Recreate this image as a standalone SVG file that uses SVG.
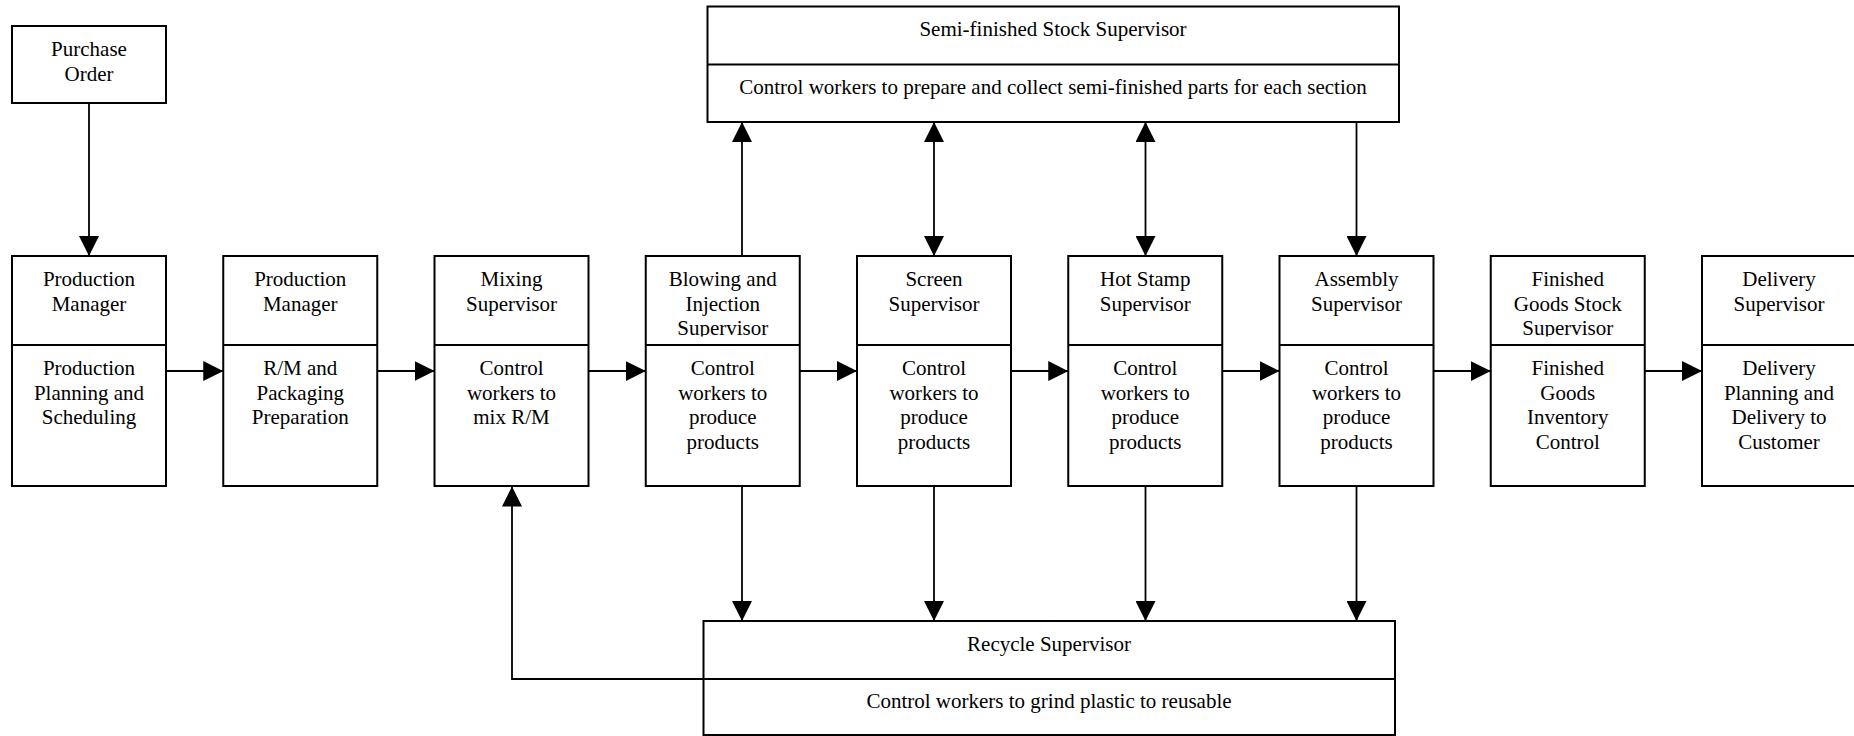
<svg xmlns="http://www.w3.org/2000/svg" width="1854" height="736" viewBox="0 0 1854 736">
  <style>
    .box { fill: #ffffff; stroke: #000000; stroke-width: 2; }
    .div { stroke: #000000; stroke-width: 2; }
    .t { font-family: "Liberation Serif", "Times New Roman", serif; font-size: 21px; fill: #000000; text-anchor: middle; }
    .ln { fill: none; stroke: #000000; stroke-width: 1.8; }
  </style>
  <defs>
    <marker id="arr" viewBox="0 0 20 20" refX="20" refY="10" markerWidth="20" markerHeight="20" markerUnits="userSpaceOnUse" orient="auto-start-reverse">
      <path d="M0,0 L20,10 L0,20 z" fill="#000000"/>
    </marker>
    <!-- header band of the process boxes: third header line is cut at the bottom -->
    <clipPath id="hdr">
      <rect x="0" y="256" width="1854" height="80.5"/>
    </clipPath>
  </defs>

  <rect x="0" y="0" width="1854" height="736" fill="#ffffff"/>

  <!-- connectors -->
  <g id="connectors">
    <!-- order to first manager -->
    <line class="ln" x1="89" y1="103" x2="89" y2="256" marker-end="url(#arr)"/>
    <!-- main flow -->
    <line class="ln" x1="166" y1="371" x2="223.25" y2="371" marker-end="url(#arr)"/>
    <line class="ln" x1="377.25" y1="371" x2="434.5" y2="371" marker-end="url(#arr)"/>
    <line class="ln" x1="588.5" y1="371" x2="645.75" y2="371" marker-end="url(#arr)"/>
    <line class="ln" x1="799.75" y1="371" x2="857" y2="371" marker-end="url(#arr)"/>
    <line class="ln" x1="1011" y1="371" x2="1068.25" y2="371" marker-end="url(#arr)"/>
    <line class="ln" x1="1222.25" y1="371" x2="1279.5" y2="371" marker-end="url(#arr)"/>
    <line class="ln" x1="1433.5" y1="371" x2="1490.75" y2="371" marker-end="url(#arr)"/>
    <line class="ln" x1="1644.75" y1="371" x2="1702" y2="371" marker-end="url(#arr)"/>
    <!-- semi-finished stock links -->
    <line class="ln" x1="742" y1="256" x2="742" y2="122" marker-end="url(#arr)"/>
    <line class="ln" x1="934" y1="122" x2="934" y2="256" marker-start="url(#arr)" marker-end="url(#arr)"/>
    <line class="ln" x1="1145.5" y1="122" x2="1145.5" y2="256" marker-start="url(#arr)" marker-end="url(#arr)"/>
    <line class="ln" x1="1356.5" y1="122" x2="1356.5" y2="256" marker-end="url(#arr)"/>
    <!-- scrap to recycle -->
    <line class="ln" x1="742" y1="486" x2="742" y2="621" marker-end="url(#arr)"/>
    <line class="ln" x1="934" y1="486" x2="934" y2="621" marker-end="url(#arr)"/>
    <line class="ln" x1="1145.5" y1="486" x2="1145.5" y2="621" marker-end="url(#arr)"/>
    <line class="ln" x1="1356.5" y1="486" x2="1356.5" y2="621" marker-end="url(#arr)"/>
    <!-- reground material back to mixing -->
    <polyline class="ln" points="703.5,679 512,679 512,486.5" marker-end="url(#arr)"/>
  </g>

  <g id="purchase-order">
    <rect class="box" x="12" y="26" width="154" height="77"/>
    <text class="t" x="89" y="56">Purchase</text>
    <text class="t" x="89" y="81">Order</text>
  </g>

  <g id="semi-finished-stock">
    <rect class="box" x="707.5" y="6.5" width="691.5" height="115.5"/>
    <line class="div" x1="707.5" y1="64.5" x2="1399" y2="64.5"/>
    <text class="t" x="1053" y="36">Semi-finished Stock Supervisor</text>
    <text class="t" x="1053" y="94">Control workers to prepare and collect semi-finished parts for each section</text>
  </g>

  <g id="production-planning">
    <rect class="box" x="12" y="256" width="154" height="230"/>
    <line class="div" x1="12" y1="345" x2="166" y2="345"/>
    <g clip-path="url(#hdr)">
      <text class="t" x="89" y="286">Production</text>
      <text class="t" x="89" y="310.5">Manager</text>
    </g>
    <text class="t" x="89" y="375">Production</text>
    <text class="t" x="89" y="399.5">Planning and</text>
    <text class="t" x="89" y="424">Scheduling</text>
  </g>

  <g id="material-preparation">
    <rect class="box" x="223.25" y="256" width="154" height="230"/>
    <line class="div" x1="223.25" y1="345" x2="377.25" y2="345"/>
    <g clip-path="url(#hdr)">
      <text class="t" x="300.25" y="286">Production</text>
      <text class="t" x="300.25" y="310.5">Manager</text>
    </g>
    <text class="t" x="300.25" y="375">R/M and</text>
    <text class="t" x="300.25" y="399.5">Packaging</text>
    <text class="t" x="300.25" y="424">Preparation</text>
  </g>

  <g id="mixing">
    <rect class="box" x="434.5" y="256" width="154" height="230"/>
    <line class="div" x1="434.5" y1="345" x2="588.5" y2="345"/>
    <g clip-path="url(#hdr)">
      <text class="t" x="511.5" y="286">Mixing</text>
      <text class="t" x="511.5" y="310.5">Supervisor</text>
    </g>
    <text class="t" x="511.5" y="375">Control</text>
    <text class="t" x="511.5" y="399.5">workers to</text>
    <text class="t" x="511.5" y="424">mix R/M</text>
  </g>

  <g id="blowing-injection">
    <rect class="box" x="645.75" y="256" width="154" height="230"/>
    <line class="div" x1="645.75" y1="345" x2="799.75" y2="345"/>
    <g clip-path="url(#hdr)">
      <text class="t" x="722.75" y="286">Blowing and</text>
      <text class="t" x="722.75" y="310.5">Injection</text>
      <text class="t" x="722.75" y="335">Supervisor</text>
    </g>
    <text class="t" x="722.75" y="375">Control</text>
    <text class="t" x="722.75" y="399.5">workers to</text>
    <text class="t" x="722.75" y="424">produce</text>
    <text class="t" x="722.75" y="448.5">products</text>
  </g>

  <g id="screen">
    <rect class="box" x="857" y="256" width="154" height="230"/>
    <line class="div" x1="857" y1="345" x2="1011" y2="345"/>
    <g clip-path="url(#hdr)">
      <text class="t" x="934" y="286">Screen</text>
      <text class="t" x="934" y="310.5">Supervisor</text>
    </g>
    <text class="t" x="934" y="375">Control</text>
    <text class="t" x="934" y="399.5">workers to</text>
    <text class="t" x="934" y="424">produce</text>
    <text class="t" x="934" y="448.5">products</text>
  </g>

  <g id="hot-stamp">
    <rect class="box" x="1068.25" y="256" width="154" height="230"/>
    <line class="div" x1="1068.25" y1="345" x2="1222.25" y2="345"/>
    <g clip-path="url(#hdr)">
      <text class="t" x="1145.25" y="286">Hot Stamp</text>
      <text class="t" x="1145.25" y="310.5">Supervisor</text>
    </g>
    <text class="t" x="1145.25" y="375">Control</text>
    <text class="t" x="1145.25" y="399.5">workers to</text>
    <text class="t" x="1145.25" y="424">produce</text>
    <text class="t" x="1145.25" y="448.5">products</text>
  </g>

  <g id="assembly">
    <rect class="box" x="1279.5" y="256" width="154" height="230"/>
    <line class="div" x1="1279.5" y1="345" x2="1433.5" y2="345"/>
    <g clip-path="url(#hdr)">
      <text class="t" x="1356.5" y="286">Assembly</text>
      <text class="t" x="1356.5" y="310.5">Supervisor</text>
    </g>
    <text class="t" x="1356.5" y="375">Control</text>
    <text class="t" x="1356.5" y="399.5">workers to</text>
    <text class="t" x="1356.5" y="424">produce</text>
    <text class="t" x="1356.5" y="448.5">products</text>
  </g>

  <g id="finished-goods">
    <rect class="box" x="1490.75" y="256" width="154" height="230"/>
    <line class="div" x1="1490.75" y1="345" x2="1644.75" y2="345"/>
    <g clip-path="url(#hdr)">
      <text class="t" x="1567.75" y="286">Finished</text>
      <text class="t" x="1567.75" y="310.5">Goods Stock</text>
      <text class="t" x="1567.75" y="335">Supervisor</text>
    </g>
    <text class="t" x="1567.75" y="375">Finished</text>
    <text class="t" x="1567.75" y="399.5">Goods</text>
    <text class="t" x="1567.75" y="424">Inventory</text>
    <text class="t" x="1567.75" y="448.5">Control</text>
  </g>

  <g id="delivery">
    <rect class="box" x="1702" y="256" width="154" height="230"/>
    <line class="div" x1="1702" y1="345" x2="1856" y2="345"/>
    <g clip-path="url(#hdr)">
      <text class="t" x="1779" y="286">Delivery</text>
      <text class="t" x="1779" y="310.5">Supervisor</text>
    </g>
    <text class="t" x="1779" y="375">Delivery</text>
    <text class="t" x="1779" y="399.5">Planning and</text>
    <text class="t" x="1779" y="424">Delivery to</text>
    <text class="t" x="1779" y="448.5">Customer</text>
  </g>

  <g id="recycle">
    <rect class="box" x="703.5" y="621" width="691.5" height="114"/>
    <line class="div" x1="703.5" y1="679" x2="1395" y2="679"/>
    <text class="t" x="1049" y="651">Recycle Supervisor</text>
    <text class="t" x="1049" y="708">Control workers to grind plastic to reusable</text>
  </g>
</svg>
